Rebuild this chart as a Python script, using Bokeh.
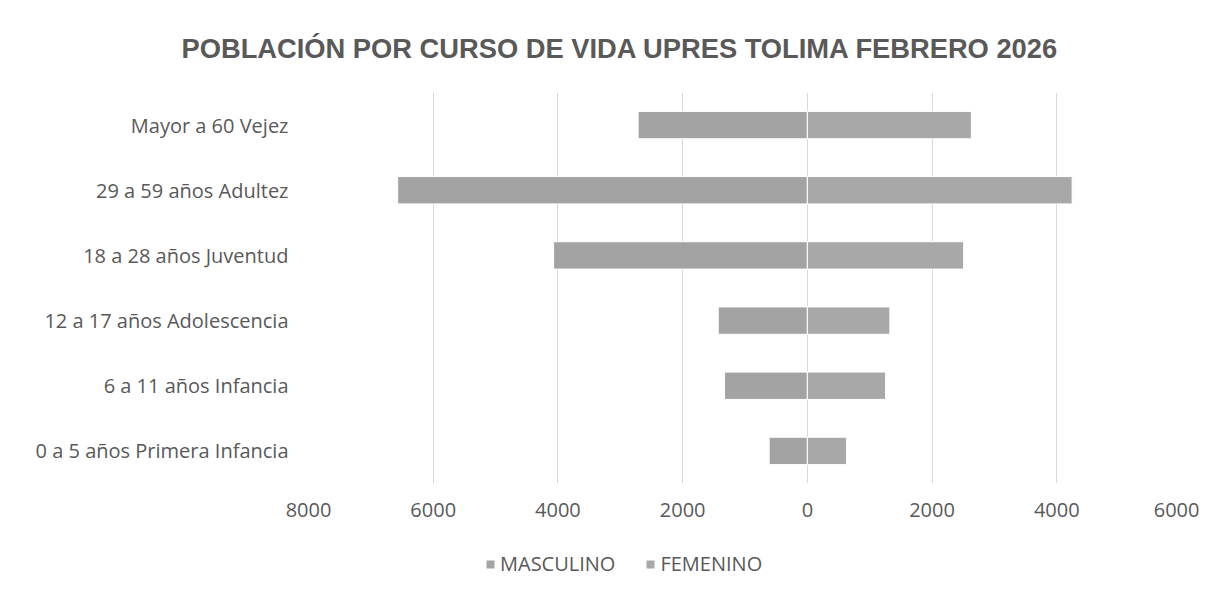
from bokeh.plotting import figure
from bokeh.layouts import column
from bokeh.models import Range1d, FactorRange, FixedTicker, Title, Legend, LegendItem, ColumnDataSource
from bokeh.embed import file_html
from bokeh.resources import INLINE

categories = ["0 a 5 años Primera Infancia", "6 a 11 años Infancia", "12 a 17 años Adolescencia",
              "18 a 28 años Juventud", "29 a 59 años Adultez", "Mayor a 60 Vejez"]
masculino = [613, 1328, 1429, 4069, 6570, 2714]
femenino = [630, 1254, 1323, 2507, 4246, 2630]
tick_values = [-8000, -6000, -4000, -2000, 0, 2000, 4000, 6000]
tick_labels = ["8000", "6000", "4000", "2000", "0", "2000", "4000", "6000"]
series_names = ["MASCULINO", "FEMENINO"]
series_colors = ["#a3a3a3", "#a8a8a8"]
title_text = "POBLACIÓN POR CURSO DE VIDA UPRES TOLIMA FEBRERO 2026"

TXT = "#595959"
FONT = "Open Sans"

# Main chart
p = figure(y_range=FactorRange(*categories), x_range=Range1d(-8000, 6000),
           frame_width=873, frame_height=391,
           min_border_left=308, min_border_right=18, min_border_top=92, min_border_bottom=60,
           output_backend="svg", toolbar_location=None)
p.outline_line_color = None
p.background_fill_color = "white"
p.border_fill_color = "white"

src = ColumnDataSource(dict(y=categories, m=[-v for v in masculino], f=femenino, z=[0] * len(categories)))
p.hbar(y="y", left="m", right="z", height=0.42, source=src,
       fill_color=series_colors[0], line_color="white", line_width=1)
p.hbar(y="y", left="z", right="f", height=0.42, source=src,
       fill_color=series_colors[1], line_color="white", line_width=1)

p.xaxis.ticker = FixedTicker(ticks=tick_values)
p.xaxis.major_label_overrides = {v: l for v, l in zip(tick_values, tick_labels)}
for ax in (p.xaxis[0], p.yaxis[0]):
    ax.axis_line_color = None
    ax.major_tick_line_color = None
    ax.minor_tick_line_color = None
    ax.major_tick_out = 0
    ax.major_tick_in = 0
    ax.major_label_text_font = FONT
    ax.major_label_text_font_size = "20px"
    ax.major_label_text_color = TXT
p.xaxis.major_label_standoff = 19
p.yaxis.major_label_standoff = 20
p.xgrid.grid_line_color = "#d9d9d9"
p.ygrid.grid_line_color = None

p.add_layout(Title(text=title_text, align="left", offset=-127, standoff=58,
                   text_font="Liberation Sans", text_font_style="bold", text_font_size="27.3px",
                   text_color=TXT), "above")

# Legend strip below the chart (its frame is aligned with the chart's frame)
pl = figure(width=1199, height=43, x_range=Range1d(0, 1), y_range=Range1d(0, 1),
            x_axis_type=None, y_axis_type=None, min_border=0,
            output_backend="svg", toolbar_location=None)
pl.outline_line_color = None
pl.grid.grid_line_color = None
pl.background_fill_color = "white"
pl.border_fill_color = "white"
items = []
for name, col in zip(series_names, series_colors):
    r = pl.hbar(y=[-5], left=[0], right=[0], height=0.4, fill_color=col, line_color=None)
    items.append(LegendItem(label=name, renderers=[r]))
legend = Legend(items=items, location=(177, 9), orientation="horizontal",
                glyph_width=10, glyph_height=10, label_standoff=5, spacing=30,
                padding=0, margin=0, border_line_color=None, background_fill_alpha=0,
                label_text_font=FONT, label_text_font_size="20px", label_text_color=TXT)
pl.add_layout(legend, "center")

layout = column(p, pl, spacing=0)
open("out.html", "w").write(file_html(layout, INLINE))
